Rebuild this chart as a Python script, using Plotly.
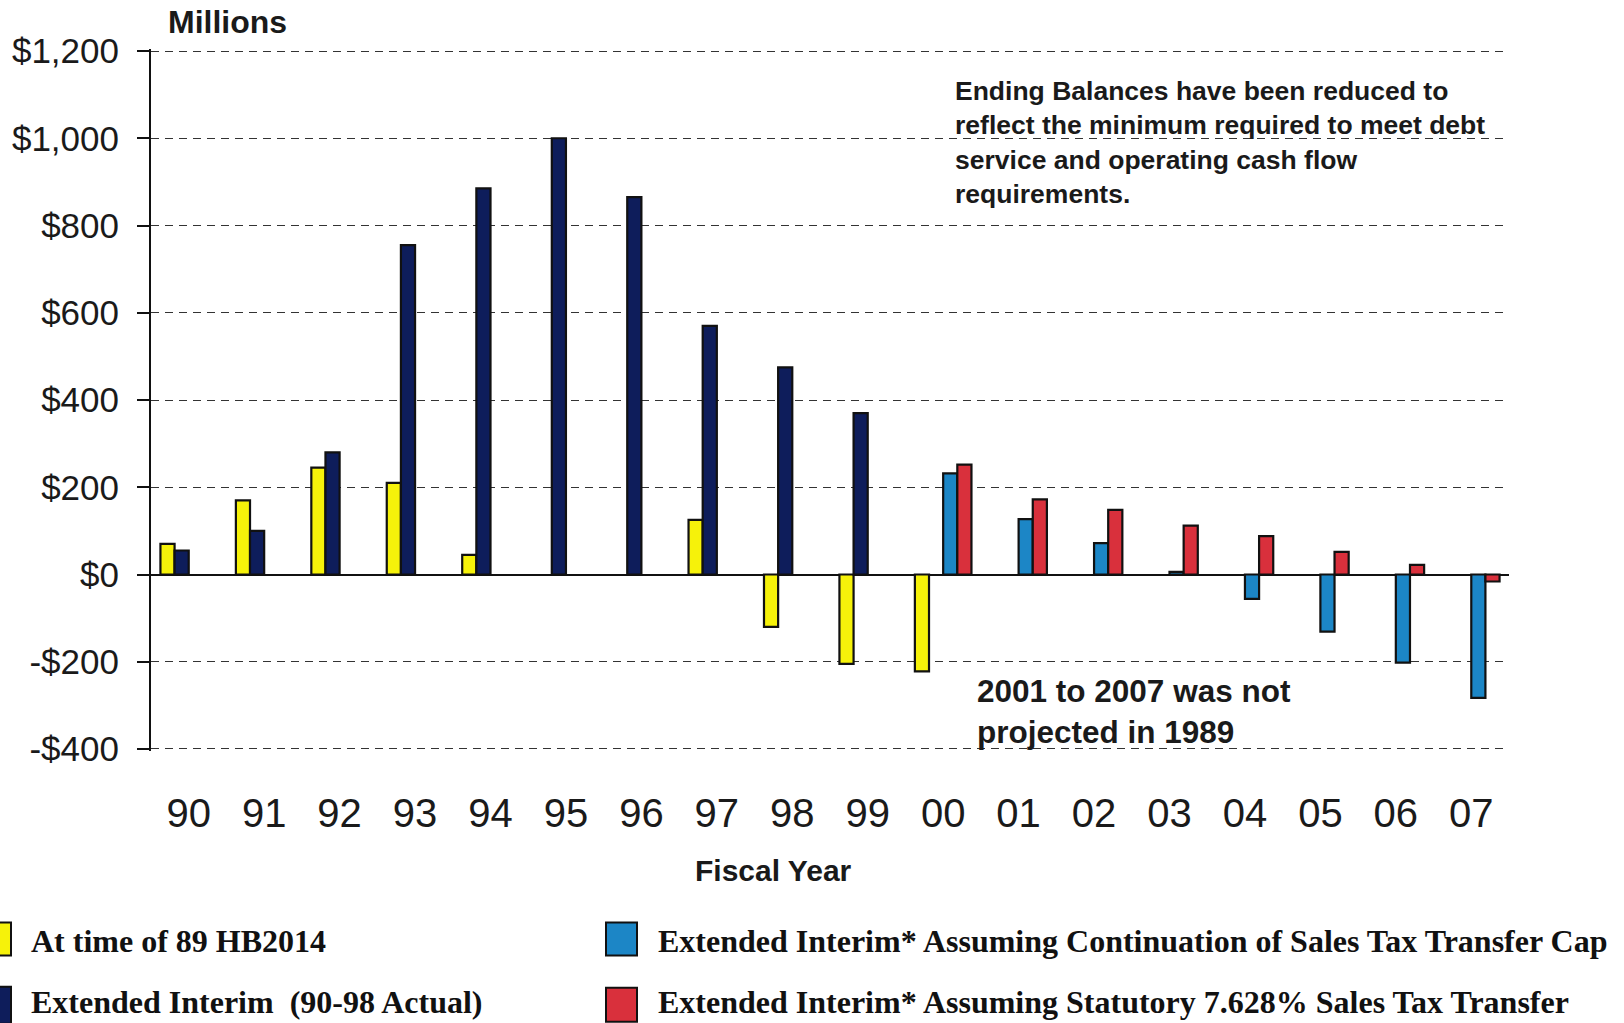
import plotly.graph_objects as go

years = ["90", "91", "92", "93", "94", "95", "96", "97", "98", "99",
         "00", "01", "02", "03", "04", "05", "06", "07"]

at_time_89 = [70, 170, 245, 210, 45, None, None, 125, -120, -205, -222,
              None, None, None, None, None, None, None]
extended_interim = [55, 100, 280, 755, 885, 1000, 865, 570, 475, 370,
                    None, None, None, None, None, None, None, None]
cap_continuation = [None] * 10 + [232, 127, 72, 6, -56, -131, -202, -283]
statutory_7628 = [None] * 10 + [252, 172, 148, 112, 88, 52, 22, -16]

series_names = [
    "At time of 89 HB2014",
    "Extended Interim  (90-98 Actual)",
    "Extended Interim* Assuming Continuation of Sales Tax Transfer Cap",
    "Extended Interim* Assuming Statutory 7.628% Sales Tax Transfer",
]
series_values = [at_time_89, extended_interim, cap_continuation, statutory_7628]
series_colors = ["#F6F20A", "#0E1D5B", "#1C86C6", "#D9303C"]

y_ticks = [-400, -200, 0, 200, 400, 600, 800, 1000, 1200]
y_tick_text = ["-$400", "-$200", "$0", "$200", "$400", "$600", "$800", "$1,000", "$1,200"]

W, H = 1624, 1023
L, R, T, B = 151, 1509, 50, 750


def px_x(p):
    return (p - L) / (R - L)


def px_y(p):
    return (B - p) / (B - T)


fig = go.Figure()
for name, vals, col in zip(series_names, series_values, series_colors):
    fig.add_trace(go.Bar(
        x=years, y=vals, name=name, marker_color=col,
        marker_line_color="#111111", marker_line_width=2.2,
        showlegend=False,
    ))

fig.update_layout(
    width=W, height=H,
    margin=dict(l=L, r=W - R, t=T - 1, b=H - B - 1),
    paper_bgcolor="white", plot_bgcolor="white",
    barmode="group", bargap=0.25, bargroupgap=0,
    font=dict(family="Liberation Sans, Arial, sans-serif", color="#1a1a1a"),
    xaxis=dict(
        type="category", range=[-0.5, 17.5],
        showgrid=False, showline=False, zeroline=False,
        ticks="outside", ticklen=27, tickcolor="rgba(0,0,0,0)",
        tickfont=dict(size=40, color="#1a1a1a"),
    ),
    yaxis=dict(
        range=[-404.6, 1204.6], tickvals=y_ticks, ticktext=y_tick_text,
        showgrid=True, gridcolor="#333333", gridwidth=1.3, griddash="8px,6px",
        zeroline=True, zerolinecolor="#111111", zerolinewidth=2,
        showline=True, linecolor="#111111", linewidth=2,
        ticks="outside", ticklen=12, tickwidth=2, tickcolor="#111111",
        ticklabelstandoff=11,
        tickfont=dict(size=35, color="#1a1a1a"),
    ),
)

ann = []
ann.append(dict(text="<b>Millions</b>", x=px_x(166), y=px_y(23), xanchor="left", yanchor="middle",
                font=dict(size=32)))
ann.append(dict(text="<b>Ending Balances have been reduced to<br>reflect the minimum required to meet debt<br>"
                     "service and operating cash flow<br>requirements.</b>",
                x=px_x(953), y=px_y(75), xanchor="left", yanchor="top", align="left",
                font=dict(size=26.5)))
ann.append(dict(text="<b>2001 to 2007 was not<br>projected in 1989</b>",
                x=px_x(975), y=px_y(670), xanchor="left", yanchor="top", align="left",
                font=dict(size=31.5)))
ann.append(dict(text="<b>Fiscal Year</b>", x=px_x(773), y=px_y(869), xanchor="center", yanchor="middle",
                font=dict(size=30)))

# legend (manual)
leg_pos = [(29, 939, -30, 11, 921, 954), (29, 1000, -30, 11, 985, 1022),
           (656, 939, 606, 637, 921, 954), (656, 1000, 606, 637, 986, 1020)]
shapes = []
for name, col, (tx, ty, bx0, bx1, by0, by1) in zip(series_names, series_colors, leg_pos):
    ann.append(dict(text="<b>" + name + "</b>", x=px_x(tx), y=px_y(ty), xanchor="left", yanchor="middle",
                    font=dict(size=32, family="Liberation Serif, Times New Roman, serif", color="#111111")))
    shapes.append(dict(type="rect", xref="paper", yref="paper",
                       x0=px_x(bx0), x1=px_x(bx1), y0=px_y(by1), y1=px_y(by0),
                       fillcolor=col, line=dict(color="#111111", width=2)))

for a in ann:
    a.update(xref="paper", yref="paper", showarrow=False)
fig.update_layout(annotations=ann, shapes=shapes)

fig.write_html("out.html")
